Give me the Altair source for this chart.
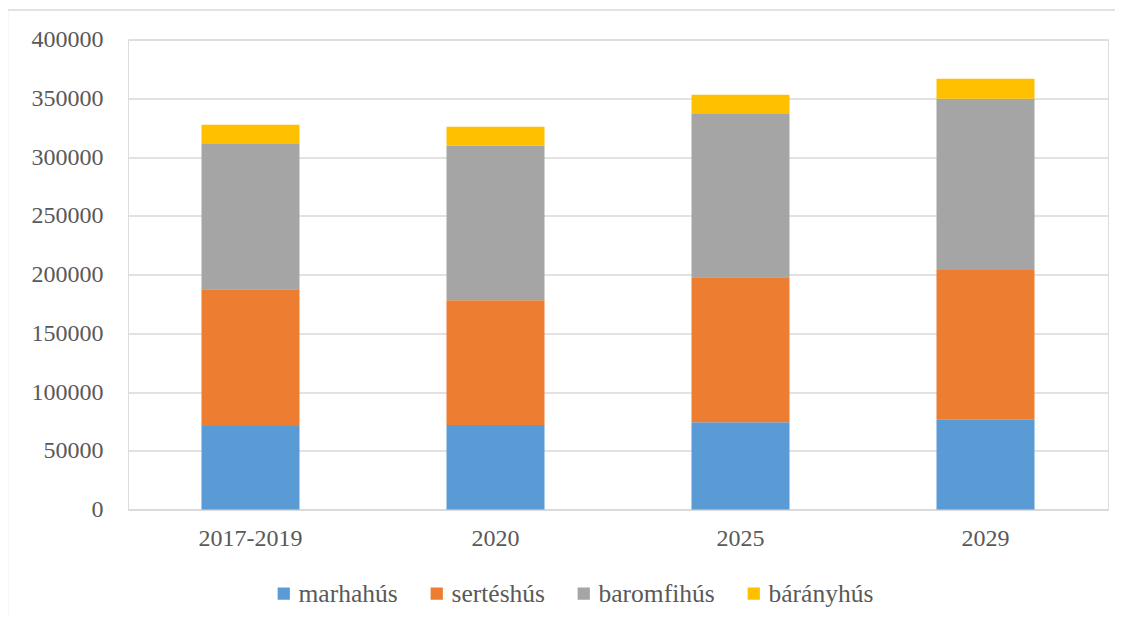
import altair as alt
import pandas as pd

categories = ["2017-2019", "2020", "2025", "2029"]
series = ["marhahús", "sertéshús", "baromfihús", "bárányhús"]
colors = ["#5B9BD5", "#ED7D31", "#A5A5A5", "#FFC000"]
marhahus = [71000, 72000, 74200, 76800]
serteshus = [116500, 106100, 123500, 127100]
baromfihus = [124300, 131700, 138800, 145600]
baranyhus = [15600, 15900, 16400, 17000]
y_ticks = [0, 50000, 100000, 150000, 200000, 250000, 300000, 350000, 400000]

values = [marhahus, serteshus, baromfihus, baranyhus]
rows = []
for si, (s, vals) in enumerate(zip(series, values)):
    for c, v in zip(categories, vals):
        rows.append({"cat": c, "series": s, "value": v, "order": si})
df = pd.DataFrame(rows)

FONT = "Liberation Serif"
TXT = "#595959"

bars = alt.Chart(df).mark_bar().encode(
    x=alt.X("cat:N", sort=categories, title=None,
            scale=alt.Scale(paddingInner=0.6, paddingOuter=0.3),
            axis=alt.Axis(labelAngle=0, labelFont=FONT, labelFontSize=24,
                          labelColor=TXT, ticks=False, domain=True,
                          domainColor="#D9D9D9", domainWidth=1.5,
                          labelPadding=17, grid=False)),
    y=alt.Y("value:Q", title=None, stack="zero",
            scale=alt.Scale(domain=[0, 400000], nice=False),
            axis=alt.Axis(values=y_ticks, format="d", labelFont=FONT,
                          labelFontSize=24, labelColor=TXT, ticks=False,
                          domain=False, labelPadding=25, gridColor="#D9D9D9",
                          gridWidth=1.5)),
    color=alt.Color("series:N", sort=series,
                    scale=alt.Scale(domain=series, range=colors),
                    legend=alt.Legend(title=None, orient="none", direction="horizontal",
                                      legendX=143, legendY=541,
                                      labelFont=FONT, labelFontSize=25.5,
                                      labelColor=TXT, symbolType="square",
                                      symbolSize=150, symbolStrokeWidth=0,
                                      columnPadding=26, labelOffset=2)),
    order=alt.Order("order:Q", sort="ascending"),
)

frame = pd.DataFrame({"a": [0]})
top_line = alt.Chart(frame).mark_rule(color="#D9D9D9", strokeWidth=1.5).encode(
    x=alt.value(-120.5), x2=alt.value(1100), y=alt.value(-29.5)
)
left_line = alt.Chart(frame).mark_rule(color="#D9D9D9", strokeWidth=1.5).encode(
    x=alt.value(-120.5), y=alt.value(-29.5), y2=alt.value(700)
)

chart = alt.layer(top_line, left_line, bars).properties(
    width=980, height=470,
    autosize=alt.AutoSizeParams(type="none"),
    padding={"left": 120, "top": 31.5, "right": 7, "bottom": 107},
).configure_view(stroke=None).configure(background="white").configure_axis(
    labelFont=FONT
).configure_legend(labelFont=FONT)

chart.save("out.html", embed_options={"renderer": "svg", "actions": False})
